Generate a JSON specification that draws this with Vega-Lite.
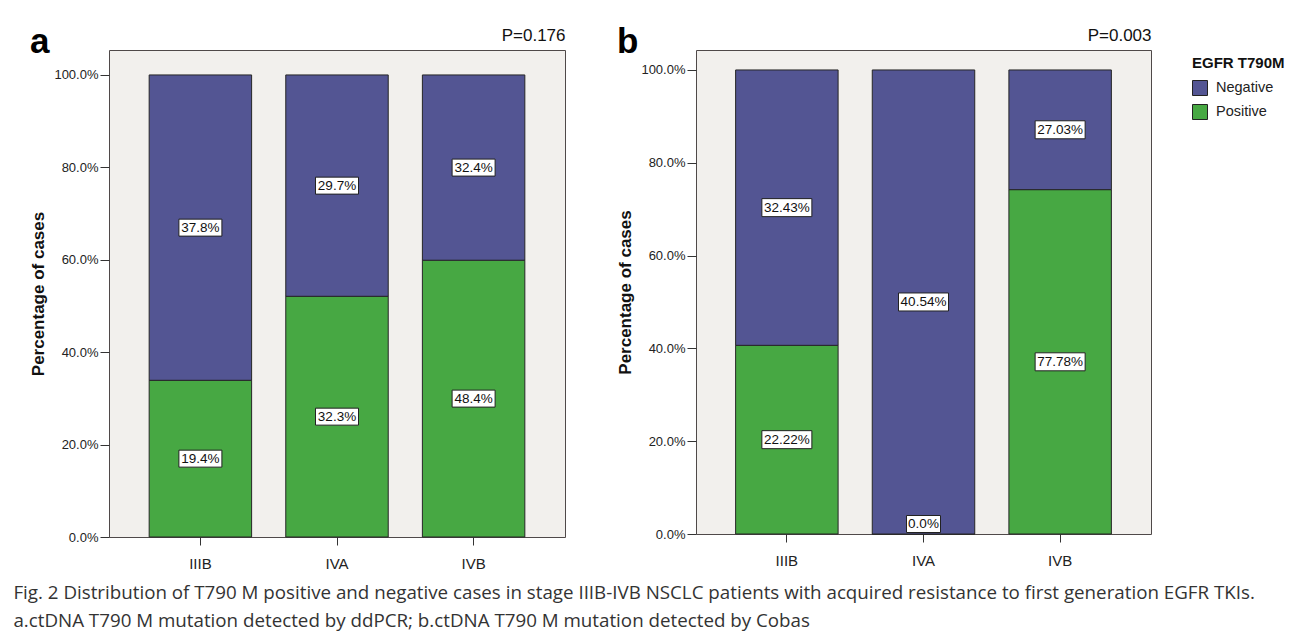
{
  "$schema": "https://vega.github.io/schema/vega-lite/v6.json",
  "background": "white",
  "padding": {"left": 13, "top": 24, "right": 8, "bottom": 4},
  "title": {
    "text": ["Fig. 2 Distribution of T790 M positive and negative cases in stage IIIB-IVB NSCLC patients with acquired resistance to first generation EGFR TKIs.", "a.ctDNA T790 M mutation detected by ddPCR; b.ctDNA T790 M mutation detected by Cobas"],
    "orient": "bottom",
    "anchor": "start",
    "frame": "bounds",
    "dx": -16,
    "offset": 12,
    "font": "Open Sans",
    "fontSize": 18.75,
    "fontWeight": "normal",
    "color": "#333333",
    "lineHeight": 28
  },
  "datasets": {
    "a": [
      {"stage": "IIIB", "status": "Positive", "pct": 19.4, "label": "19.4%"},
      {"stage": "IIIB", "status": "Negative", "pct": 37.8, "label": "37.8%"},
      {"stage": "IVA", "status": "Positive", "pct": 32.3, "label": "32.3%"},
      {"stage": "IVA", "status": "Negative", "pct": 29.7, "label": "29.7%"},
      {"stage": "IVB", "status": "Positive", "pct": 48.4, "label": "48.4%"},
      {"stage": "IVB", "status": "Negative", "pct": 32.4, "label": "32.4%"}
    ],
    "b": [
      {"stage": "IIIB", "status": "Positive", "pct": 22.22, "label": "22.22%"},
      {"stage": "IIIB", "status": "Negative", "pct": 32.43, "label": "32.43%"},
      {"stage": "IVA", "status": "Positive", "pct": 0, "label": "0.0%"},
      {"stage": "IVA", "status": "Negative", "pct": 40.54, "label": "40.54%"},
      {"stage": "IVB", "status": "Positive", "pct": 77.78, "label": "77.78%"},
      {"stage": "IVB", "status": "Negative", "pct": 27.03, "label": "27.03%"}
    ]
  },
  "spacing": 50,
  "resolve": {"scale": {"color": "independent"}},
  "hconcat": [
    {
      "width": 456,
      "height": 487,
      "data": {"name": "a"},
      "title": {"text": "a", "anchor": "start", "frame": "bounds", "fontSize": 35, "fontWeight": "bold", "offset": 0, "dy": 34, "color": "#000000", "font": "Liberation Sans"},
      "layer": [
        {
          "mark": {"type": "bar", "stroke": "#262626", "strokeWidth": 1},
          "encoding": {
            "x": {"field": "stage", "type": "nominal", "sort": ["IIIB", "IVA", "IVB"], "scale": {"paddingInner": 0.25, "paddingOuter": 0.294},
                  "axis": {"orient": "bottom", "title": null, "labelAngle": 0, "labelFontSize": 15, "tickSize": 8, "labelPadding": 11, "domain": false}},
            "y": {"field": "pct", "type": "quantitative", "stack": "normalize", "scale": {"domain": [0, 1.054], "nice": false},
                  "axis": {"title": "Percentage of cases", "values": [0, 0.2, 0.4, 0.6, 0.8, 1], "labelExpr": "format(datum.value, '.1%')", "titleFontSize": 17, "titleFontWeight": "bold", "titlePadding": 6, "labelFontSize": 13, "labelPadding": 2, "tickSize": 9, "domain": false}},
            "color": {"field": "status", "type": "nominal", "scale": {"domain": ["Negative", "Positive"], "range": ["#535593", "#47a843"]}, "legend": null},
            "order": {"field": "status", "sort": "descending"}
          }
        },
        {
          "transform": [{"filter": "datum.pct > 0"}],
          "mark": {"type": "point", "shape": "M-1,-0.395H1V0.395H-1Z", "size": 1849, "filled": true, "fill": "#ffffff", "stroke": "#222222", "strokeWidth": 1, "opacity": 1},
          "encoding": {
            "x": {"field": "stage", "type": "nominal", "sort": ["IIIB", "IVA", "IVB"], "axis": null},
            "y": {"field": "pct", "type": "quantitative", "stack": "normalize", "bandPosition": 0.5, "axis": null},
            "detail": {"field": "status"},
            "order": {"field": "status", "sort": "descending"}
          }
        },
        {
          "transform": [{"filter": "datum.pct > 0"}],
          "mark": {"type": "text", "fontSize": 13.5, "color": "#111111", "baseline": "middle"},
          "encoding": {
            "x": {"field": "stage", "type": "nominal", "sort": ["IIIB", "IVA", "IVB"],
                  "axis": {"orient": "top", "title": "P=0.176", "titleAnchor": "end", "titleFontSize": 17, "titleFontWeight": "normal", "titleBaseline": "alphabetic", "titlePadding": 10, "labels": false, "ticks": false, "domain": false}},
            "y": {"field": "pct", "type": "quantitative", "stack": "normalize", "bandPosition": 0.5, "axis": null},
            "detail": {"field": "status"},
            "order": {"field": "status", "sort": "descending"},
            "text": {"field": "label"}
          }
        }
      ],
      "resolve": {"axis": {"x": "independent", "y": "independent"}}
    },
    {
      "width": 455,
      "height": 484,
      "data": {"name": "b"},
      "title": {"text": "b", "anchor": "start", "frame": "bounds", "fontSize": 35, "fontWeight": "bold", "offset": 0, "dy": 34, "color": "#000000", "font": "Liberation Sans"},
      "layer": [
        {
          "mark": {"type": "bar", "stroke": "#262626", "strokeWidth": 1},
          "encoding": {
            "x": {"field": "stage", "type": "nominal", "sort": ["IIIB", "IVA", "IVB"], "scale": {"paddingInner": 0.25, "paddingOuter": 0.29},
                  "axis": {"orient": "bottom", "title": null, "labelAngle": 0, "labelFontSize": 15, "tickSize": 8, "labelPadding": 11, "domain": false}},
            "y": {"field": "pct", "type": "quantitative", "stack": "normalize", "scale": {"domain": [0, 1.043], "nice": false},
                  "axis": {"title": "Percentage of cases", "values": [0, 0.2, 0.4, 0.6, 0.8, 1], "labelExpr": "format(datum.value, '.1%')", "titleFontSize": 17, "titleFontWeight": "bold", "titlePadding": 6, "labelFontSize": 13, "labelPadding": 2, "tickSize": 9, "domain": false}},
            "color": {"field": "status", "type": "nominal", "scale": {"domain": ["Negative", "Positive"], "range": ["#535593", "#47a843"]},
                      "legend": {"title": "EGFR T790M", "orient": "right", "offset": 35, "padding": 6, "titleFontSize": 15, "titleFontWeight": "bold", "titlePadding": 9, "labelFontSize": 14.5, "labelOffset": 8, "symbolType": "square", "symbolSize": 225, "symbolStrokeColor": "#222222", "symbolStrokeWidth": 1, "rowPadding": 4}},
            "order": {"field": "status", "sort": "descending"}
          }
        },
        {
          "transform": [{"filter": "datum.pct > 0"}],
          "mark": {"type": "point", "shape": "M-1,-0.36H1V0.36H-1Z", "size": 2500, "filled": true, "fill": "#ffffff", "stroke": "#222222", "strokeWidth": 1, "opacity": 1},
          "encoding": {
            "x": {"field": "stage", "type": "nominal", "sort": ["IIIB", "IVA", "IVB"], "axis": null},
            "y": {"field": "pct", "type": "quantitative", "stack": "normalize", "bandPosition": 0.5, "axis": null},
            "detail": {"field": "status"},
            "order": {"field": "status", "sort": "descending"}
          }
        },
        {
          "transform": [{"filter": "datum.pct > 0"}],
          "mark": {"type": "text", "fontSize": 13.5, "color": "#111111", "baseline": "middle"},
          "encoding": {
            "x": {"field": "stage", "type": "nominal", "sort": ["IIIB", "IVA", "IVB"],
                  "axis": {"orient": "top", "title": "P=0.003", "titleAnchor": "end", "titleFontSize": 17, "titleFontWeight": "normal", "titleBaseline": "alphabetic", "titlePadding": 10, "labels": false, "ticks": false, "domain": false}},
            "y": {"field": "pct", "type": "quantitative", "stack": "normalize", "bandPosition": 0.5, "axis": null},
            "detail": {"field": "status"},
            "order": {"field": "status", "sort": "descending"},
            "text": {"field": "label"}
          }
        },
        {
          "transform": [{"filter": "datum.pct == 0"}],
          "mark": {"type": "point", "shape": "M-1,-0.5H1V0.5H-1Z", "size": 1156, "filled": true, "fill": "#ffffff", "stroke": "#222222", "strokeWidth": 1, "opacity": 1, "yOffset": -10},
          "encoding": {
            "x": {"field": "stage", "type": "nominal", "sort": ["IIIB", "IVA", "IVB"], "axis": null},
            "y": {"field": "pct", "type": "quantitative", "axis": null}
          }
        },
        {
          "transform": [{"filter": "datum.pct == 0"}],
          "mark": {"type": "text", "fontSize": 13.5, "color": "#111111", "baseline": "middle", "yOffset": -10},
          "encoding": {
            "x": {"field": "stage", "type": "nominal", "sort": ["IIIB", "IVA", "IVB"], "axis": null},
            "y": {"field": "pct", "type": "quantitative", "axis": null},
            "text": {"field": "label"}
          }
        }
      ],
      "resolve": {"axis": {"x": "independent", "y": "independent"}}
    }
  ],
  "config": {
    "font": "Liberation Sans",
    "view": {"stroke": "#4f4949", "strokeWidth": 1, "fill": "#f2f0ed"},
    "axis": {"labelColor": "#222222", "tickColor": "#333333", "titleColor": "#111111", "grid": false, "labelFont": "Liberation Sans", "titleFont": "Liberation Sans"},
    "legend": {"titleColor": "#111111", "labelColor": "#222222", "titleFont": "Liberation Sans", "labelFont": "Liberation Sans"}
  }
}
